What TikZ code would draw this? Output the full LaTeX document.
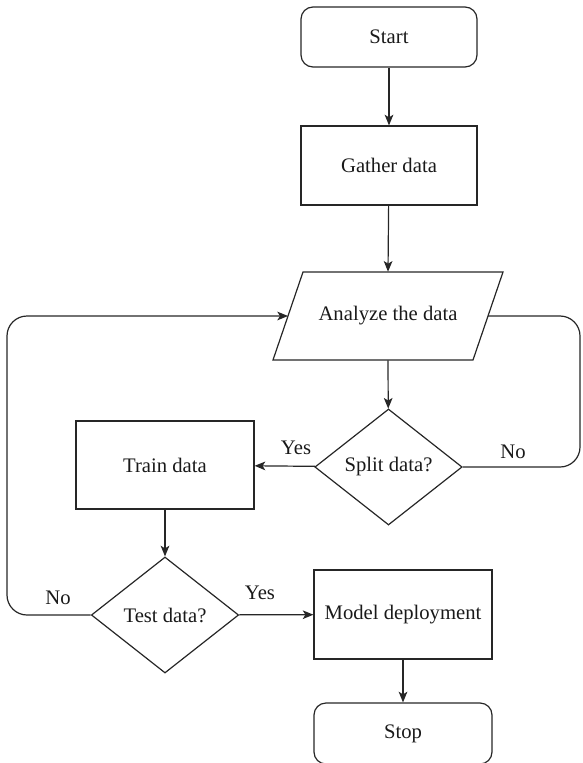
\documentclass[tikz,border=0pt]{standalone}
\usepackage{fontspec}
\setmainfont{Liberation Serif}
\newfontfamily\chartfont{Liberation Serif}
\usetikzlibrary{shapes.geometric,arrows.meta}
\begin{document}
\begin{tikzpicture}[x=0.75pt,y=-0.75pt,
  font=\chartfont\fontsize{15.5}{18}\selectfont,
  every node/.style={text=black!90},
  line/.style={draw=black!85,line width=0.9pt},
  arrow/.style={line,-{Stealth[length=8pt,width=6.5pt,inset=2pt]}},
  terminal/.style={line,rectangle,rounded corners=9pt,minimum width=132pt,inner sep=0pt},
  procbox/.style={line,rectangle,minimum width=133.5pt,minimum height=66pt,inner sep=0pt},
  decision/.style={line,diamond,inner sep=0pt,minimum width=110.5pt,minimum height=87pt},
  lbl/.style={inner sep=0pt}]
\useasboundingbox (0,0) rectangle (582,763);

% terminals and process steps
\node[terminal,minimum height=45pt] (start) at (389,37) {Start};
\node[procbox,minimum width=132pt,minimum height=59.25pt] (gather) at (389,165.5) {Gather data};

% input/output step (parallelogram drawn around a plain text node)
\draw[line,line join=miter] (303,272) -- (503,272) -- (473,360) -- (273,360) -- cycle;
\node[rectangle,minimum width=150pt,minimum height=66pt,inner sep=0pt] (analyze) at (388,316) {Analyze the data};
\coordinate (analyzeL) at (288,316);
\coordinate (analyzeR) at (488,316);

\node[decision] (split) at (388.5,467) {Split data?};
\node[procbox] (train) at (165,465) {Train data};
\node[decision] (test) at (165,615) {Test data?};
\node[procbox,minimum height=66.75pt] (model) at (403,614.5) {Model deployment};
\node[terminal,minimum width=133.5pt,minimum height=45.75pt] (stop) at (403,733.5) {Stop};

% connectors
\draw[arrow] (start) -- (gather);
\draw[arrow] (gather) -- (analyze.north);
\draw[arrow] (analyze.south) -- (split);
\draw[arrow] (split) -- (train);
\draw[arrow] (train) -- (test);
\draw[arrow] (test) -- (model);
\draw[arrow] (model) -- (stop);
\draw[line,rounded corners=15pt] (split.east) -- (580,467) -- (580,316) -- (analyzeR);
\draw[arrow,rounded corners=15pt] (test.west) -- (7,615) -- (7,316) -- (analyzeL);

% branch labels
\node[lbl] (yes1) at (296,448) {Yes};
\node[lbl] (no1) at (513,452) {No};
\node[lbl] (yes2) at (260,593) {Yes};
\node[lbl] (no2) at (58,598) {No};
\end{tikzpicture}
\end{document}
